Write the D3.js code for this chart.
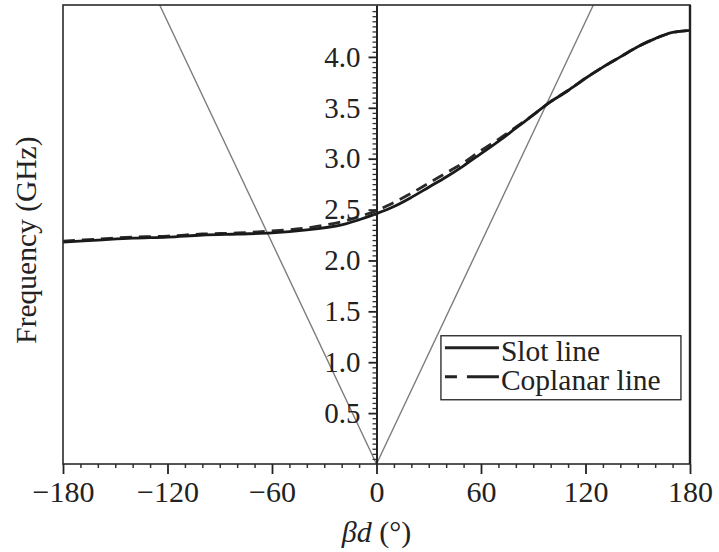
<!DOCTYPE html>
<html>
<head>
<meta charset="utf-8">
<script src="https://cdn.jsdelivr.net/npm/d3@7"></script>
<style>
  body { margin: 0; background: #fff; }
  svg text { font-family: "Liberation Serif", "Times New Roman", serif; fill: #222; }
</style>
</head>
<body>
<div id="wrapper"></div>
<script>
// βd in degrees, frequency in GHz
const betaD = [-180, -160, -140, -120, -100, -80, -60, -40, -20, -10, 0, 10, 20, 30, 40, 50, 60, 70, 80, 90, 100, 110, 120, 130, 140, 150, 160, 170, 180];
const slotLine = [2.18, 2.20, 2.22, 2.23, 2.25, 2.26, 2.27, 2.30, 2.35, 2.40, 2.46, 2.53, 2.62, 2.72, 2.82, 2.93, 3.05, 3.17, 3.30, 3.43, 3.56, 3.67, 3.79, 3.90, 4.00, 4.10, 4.18, 4.24, 4.26];
const coplanarLine = [2.19, 2.21, 2.23, 2.24, 2.26, 2.27, 2.29, 2.32, 2.38, 2.43, 2.49, 2.57, 2.66, 2.76, 2.86, 2.96, 3.08, 3.19, 3.31, 3.43, 3.56, 3.67, 3.79, 3.90, 4.00, 4.10, 4.18, 4.24, 4.26];
// light line
const lightLineX = [-124.5, 0, 124.5];
const lightLineF = [4.51, 0, 4.51];

const xTicks = [-180, -120, -60, 0, 60, 120, 180];
const yTicks = [0.5, 1.0, 1.5, 2.0, 2.5, 3.0, 3.5, 4.0];
const legendLabels = ["Slot line", "Coplanar line"];

function buildPlot() {
    const dimensions = {
        width: 719,
        height: 552,
        margin: { top: 5, right: 29, bottom: 88, left: 63 },
    };
    dimensions.boundedWidth = dimensions.width - dimensions.margin.left - dimensions.margin.right;
    dimensions.boundedHeight = dimensions.height - dimensions.margin.top - dimensions.margin.bottom;

    const wrapper = d3.select("#wrapper")
        .append("svg")
        .attr("width", dimensions.width)
        .attr("height", dimensions.height);

    const bounds = wrapper.append("g")
        .attr("transform", `translate(${dimensions.margin.left},${dimensions.margin.top})`);

    const xScale = d3.scaleLinear()
        .domain([-180, 180])
        .range([0, dimensions.boundedWidth]);
    const yScale = d3.scaleLinear()
        .domain([0, 4.51])
        .range([dimensions.boundedHeight, 0]);

    bounds.append("clipPath").attr("id", "clip")
        .append("rect")
        .attr("width", dimensions.boundedWidth)
        .attr("height", dimensions.boundedHeight);

    const plot = bounds.append("g").attr("clip-path", "url(#clip)");

    // light lines
    const lightData = lightLineX.map((x, i) => ({ x, f: lightLineF[i] }));
    plot.append("path")
        .attr("d", d3.line().x(d => xScale(d.x)).y(d => yScale(d.f))(lightData))
        .attr("fill", "none")
        .attr("stroke", "#7d7d7d")
        .attr("stroke-width", 1.4);

    const lineGenerator = d3.line()
        .x(d => xScale(d.x))
        .y(d => yScale(d.f))
        .curve(d3.curveCatmullRom);

    const coplanarData = betaD.map((x, i) => ({ x, f: coplanarLine[i] }));
    const slotData = betaD.map((x, i) => ({ x, f: slotLine[i] }));

    plot.append("path")
        .attr("d", lineGenerator(coplanarData))
        .attr("fill", "none")
        .attr("stroke", "#2a2a2a")
        .attr("stroke-width", 2.8)
        .attr("stroke-dasharray", "12,7");

    plot.append("path")
        .attr("d", lineGenerator(slotData))
        .attr("fill", "none")
        .attr("stroke", "#1a1a1a")
        .attr("stroke-width", 2.8);

    // x axis (minor + major)
    const xMinor = d3.range(-180, 181, 10).filter(v => v % 60 !== 0);
    bounds.append("g")
        .attr("transform", `translate(0,${dimensions.boundedHeight})`)
        .call(d3.axisBottom(xScale).tickValues(xMinor).tickSize(4).tickFormat(""))
        .call(g => g.select(".domain").remove())
        .call(g => g.selectAll("line").attr("stroke", "#333").attr("stroke-width", 1.5));

    const xAxis = bounds.append("g")
        .attr("transform", `translate(0,${dimensions.boundedHeight})`)
        .call(d3.axisBottom(xScale)
            .tickValues(xTicks)
            .tickSize(10)
            .tickFormat(d => d < 0 ? "\u2212" + Math.abs(d) : d));
    xAxis.select(".domain").remove();
    xAxis.selectAll("line").attr("stroke", "#222").attr("stroke-width", 1.8);
    xAxis.selectAll("text")
        .attr("y", 38)
        .attr("dy", null)
        .style("font-size", "30px")
        .attr("fill", "#222");

    // y axis at βd = 0
    const yMinor = d3.range(1, 91).map(v => v * 0.05).filter(v => Math.abs(v * 2 - Math.round(v * 2)) > 1e-6);
    bounds.append("g")
        .attr("transform", `translate(${xScale(0)},0)`)
        .call(d3.axisLeft(yScale).tickValues(yMinor).tickSize(4).tickFormat(""))
        .call(g => g.select(".domain").remove())
        .call(g => g.selectAll("line").attr("stroke", "#333").attr("stroke-width", 1.3));

    const yAxis = bounds.append("g")
        .attr("transform", `translate(${xScale(0)},0)`)
        .call(d3.axisLeft(yScale)
            .tickValues(yTicks)
            .tickSize(8)
            .tickSizeOuter(0)
            .tickPadding(8)
            .tickFormat(d3.format(".1f")));
    yAxis.select(".domain").attr("stroke", "#222").attr("stroke-width", 2);
    yAxis.selectAll("line").attr("stroke", "#222").attr("stroke-width", 1.8);
    yAxis.selectAll("text")
        .style("font-size", "29px")
        .attr("fill", "#222");

    // frame
    bounds.append("rect")
        .attr("width", dimensions.boundedWidth)
        .attr("height", dimensions.boundedHeight)
        .attr("fill", "none")
        .attr("stroke", "#2a2a2a")
        .attr("stroke-width", 1.6);
    bounds.append("line")
        .attr("x1", dimensions.boundedWidth).attr("x2", dimensions.boundedWidth)
        .attr("y1", 0).attr("y2", dimensions.boundedHeight)
        .attr("stroke", "#222").attr("stroke-width", 2.4);

    // axis labels
    wrapper.append("text")
        .attr("transform", `translate(36,${dimensions.margin.top + yScale(2.2)}) rotate(-90)`)
        .attr("text-anchor", "middle")
        .style("font-size", "29.5px")
        .text("Frequency (GHz)");

    const xLabel = wrapper.append("text")
        .attr("x", dimensions.margin.left + xScale(0))
        .attr("y", 542)
        .attr("text-anchor", "middle")
        .style("font-size", "30px");
    xLabel.append("tspan").style("font-style", "italic").text("\u03b2d");
    xLabel.append("tspan").text(" (\u00b0)");

    // legend
    const legend = bounds.append("g")
        .attr("transform", `translate(${xScale(37)},${yScale(1.26)})`);
    legend.append("rect")
        .attr("width", 240)
        .attr("height", 64)
        .attr("fill", "#fff")
        .attr("stroke", "#222")
        .attr("stroke-width", 1.3);
    legendLabels.forEach((label, i) => {
        const y = 12 + i * 29;
        legend.append("line")
            .attr("x1", 4).attr("x2", 58)
            .attr("y1", y).attr("y2", y)
            .attr("stroke", "#222")
            .attr("stroke-width", 2.8)
            .attr("stroke-dasharray", i === 1 ? "12,10,32" : null);
        legend.append("text")
            .attr("x", 60)
            .attr("y", y + 13)
            .style("font-size", "29.5px")
            .text(label);
    });
}

buildPlot();
</script>
</body>
</html>
